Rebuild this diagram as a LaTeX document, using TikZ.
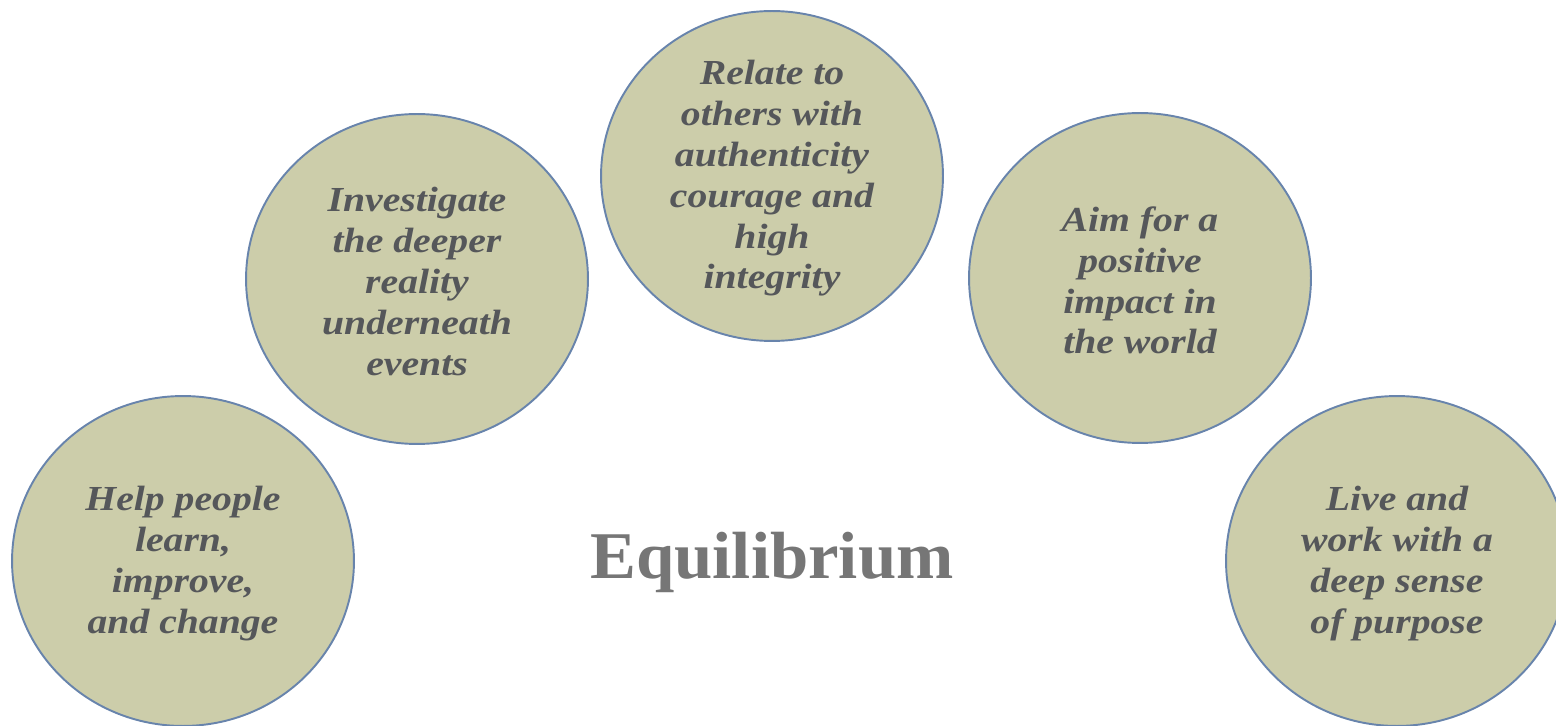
\documentclass[tikz,border=0pt]{standalone}
\usepackage{fontspec}
\setmainfont{Liberation Serif}
\newfontfamily\discfont{Liberation Serif}[FakeStretch=1.13]
\newfontfamily\titlefont{Liberation Serif}[FakeStretch=1.03]
\usetikzlibrary{shapes.geometric}
\definecolor{discfill}{RGB}{204,205,170}
\definecolor{discedge}{RGB}{104,132,172}
\definecolor{disctext}{RGB}{85,87,90}
\definecolor{titlegray}{RGB}{118,118,118}
\begin{document}
\begin{tikzpicture}[x=0.02cm,y=-0.02cm,
  disc/.style={ellipse,draw=discedge,fill=discfill,line width=1.1pt,
    minimum width=6.84cm,minimum height=6.6cm,inner sep=0pt},
  disclabel/.style={align=center,text=disctext,yshift=-0.05cm,
    font=\discfont\fontsize{20}{23.2}\selectfont\bfseries\itshape}]
\useasboundingbox (0,0) rectangle (1556,726);
\clip (0,0) rectangle (1556,726);
% five discs arranged in an arch
\node[disc] (help) at (183,561) {};
\node[disc] (inv)  at (417,279) {};
\node[disc] (rel)  at (772,176) {};
\node[disc] (aim)  at (1140,278) {};
\node[disc] (live) at (1397,561) {};
% disc texts
\node[disclabel] (helpT) at (help.center) {Help people\\learn,\\improve,\\and change};
\node[disclabel] (invT)  at (inv.center)  {Investigate\\the deeper\\reality\\underneath\\events};
\node[disclabel] (relT)  at (rel.center)  {Relate to\\others with\\authenticity\\courage and\\high\\integrity};
\node[disclabel] (aimT)  at (aim.center)  {Aim for a\\positive\\impact in\\the world};
\node[disclabel] (liveT) at (live.center) {Live and\\work with a\\deep sense\\of purpose};
% central title
\node[text=titlegray,font=\titlefont\fontsize{38}{44}\selectfont\bfseries] (title) at (772,562) {Equilibrium};
\end{tikzpicture}
\end{document}
